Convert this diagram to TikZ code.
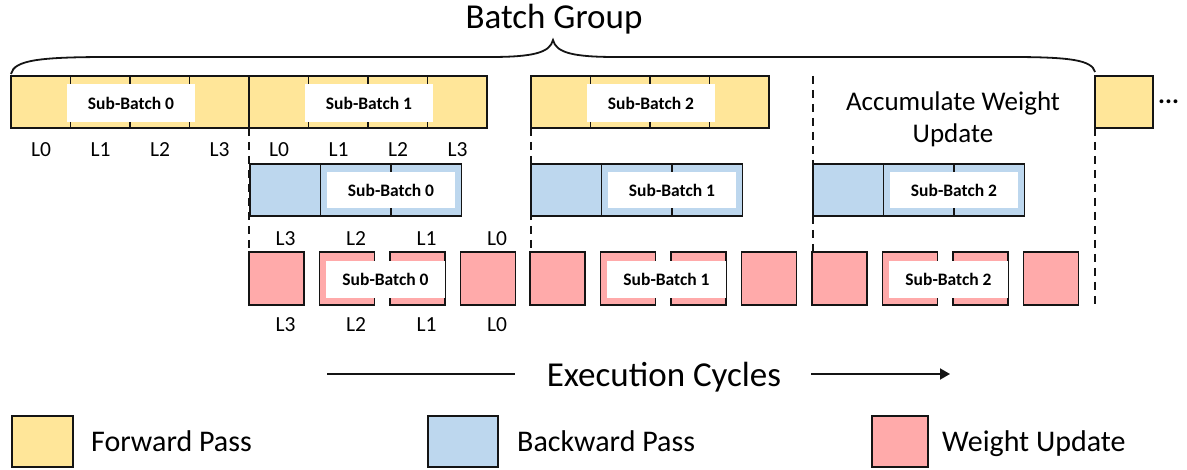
\documentclass[tikz,border=0pt]{standalone}
\usepackage{fontspec}
\setmainfont{Carlito}
\usetikzlibrary{arrows.meta}
\definecolor{fwdc}{HTML}{FFE699}
\definecolor{bwdc}{HTML}{BDD7EE}
\definecolor{wuc}{HTML}{FFAAAA}
\definecolor{edgec}{HTML}{141414}

\begin{document}
\begin{tikzpicture}[x=1pt,y=-1pt,
  cell/.style={draw=edgec, line width=1.8pt, inner sep=0pt, outer sep=0pt, anchor=north west},
  fcell/.style={cell, fill=fwdc, minimum width=59.5pt, minimum height=52pt},
  bcell/.style={cell, fill=bwdc, minimum width=70.5pt, minimum height=52pt},
  wcell/.style={cell, fill=wuc, minimum width=55pt, minimum height=53pt},
  tag/.style={fill=white, inner sep=0pt, font=\fontsize{17.5}{17.5}\selectfont\bfseries},
  lay/.style={inner sep=0pt, anchor=base, font=\fontsize{21.5}{21.5}\selectfont},
  big/.style={inner sep=0pt, anchor=base, font=\fontsize{35}{35}\selectfont},
  legtext/.style={inner sep=0pt, anchor=base west, font=\fontsize{30}{30}\selectfont},
  sep/.style={draw=edgec, line width=1.6pt, dash pattern=on 8pt off 6pt},
  rule/.style={draw=edgec, line width=1.8pt},
]
\useasboundingbox (0,0) rectangle (1187,470);

% forward pass row
\foreach \g/\gx in {0/11, 1/249, 2/531} {
  \foreach \k in {0,...,3} {
    \node[fcell] (f\g\k) at ({\gx+\k*59.5},76) {};
  }
  \node[tag, minimum width=128pt, minimum height=38pt] (ft\g) at ({\gx+120},103) {Sub-Batch \g};
}
\node[fcell, minimum width=58pt] (fx) at (1095,76) {};
\node[inner sep=0pt, anchor=base west, font=\fontsize{26}{26}\selectfont\bfseries] (dots) at (1158,104) {...};

% layer labels of the forward pass
\foreach \g/\gx in {0/11, 1/249} {
  \foreach \k in {0,...,3} {
    \node[lay] (fl\g\k) at ({\gx+\k*59.5+30},157) {L\k};
  }
}

% backward pass row
\foreach \g/\gx in {0/250, 1/531, 2/813} {
  \foreach \k in {0,...,2} {
    \node[bcell] (b\g\k) at ({\gx+\k*70.5},164) {};
  }
  \node[tag, minimum width=128pt, minimum height=36pt] (bt\g) at ({\gx+141},190) {Sub-Batch \g};
}

% weight update row
\foreach \g/\gx in {0/249, 1/530, 2/812} {
  \foreach \k in {0,...,3} {
    \node[wcell] (w\g\k) at ({\gx+\k*70.5},252) {};
  }
  \node[tag, minimum width=119pt, minimum height=37pt] (wt\g) at ({\gx+136.5},279.5) {Sub-Batch \g};
}

% layer labels of the weight update
\foreach \k/\l in {0/3, 1/2, 2/1, 3/0} {
  \node[lay] (wa\k) at ({249+\k*70.5+36.5},246) {L\l};
  \node[lay] (wb\k) at ({249+\k*70.5+36.5},332) {L\l};
}

% phase separators
\draw[sep] (f03.south east) -- (f03.south east |- w00.north);
\draw[sep] (f20.south west) -- (f20.south west |- w10.north);
\draw[sep] (b20.north west |- f20.north) -- (b20.north west |- w20.north);
\draw[sep] (fx.south west) -- (fx.south west |- w23.south);

\node[inner sep=0pt, align=center, font=\fontsize{27}{32}\selectfont] (acc) at (953,119.5) {Accumulate Weight\\Update};

% brace over the batch group
\coordinate (bl) at (11,74);
\coordinate (bt) at (553,40);
\coordinate (br) at (1095,72);
\draw[rule] (bl) .. controls (14,60) and (40,57) .. (110,57) -- (490,57)
  .. controls (532,57) and (550,53) .. (bt)
  .. controls (556,53) and (574,57) .. (616,57) -- (1010,57)
  .. controls (1070,57) and (1092,60) .. (br);
\node[big] (bg) at (554,29) {Batch Group};

% time axis
\node[big] (ec) at (664,387) {Execution Cycles};
\coordinate (ela) at (327,374);
\coordinate (elb) at (515,374);
\coordinate (era) at (811,374);
\coordinate (erb) at (950,374);
\draw[rule] (ela) -- (elb);
\draw[rule, -{Triangle[length=10pt,width=11pt]}] (era) -- (erb);

% legend
\node[cell, fill=fwdc, minimum width=61pt, minimum height=51pt] (lf) at (12,416) {};
\node[legtext] (lft) at (91,451) {Forward Pass};
\node[cell, fill=bwdc, minimum width=70pt, minimum height=51pt] (lb) at (428,416) {};
\node[legtext] (lbt) at (517,451) {Backward Pass};
\node[cell, fill=wuc, minimum width=56pt, minimum height=51pt] (lw) at (872,416) {};
\node[legtext] (lwt) at (942,451) {Weight Update};
\end{tikzpicture}
\end{document}
